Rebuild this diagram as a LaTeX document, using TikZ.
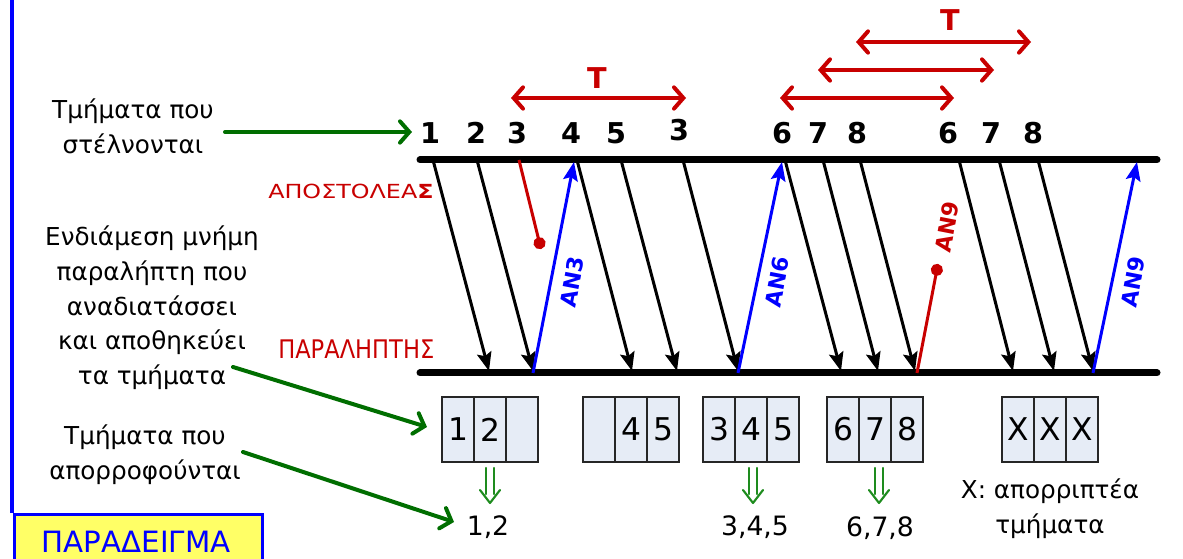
\documentclass[tikz,border=0pt]{standalone}
\usepackage{graphicx}
\usepackage{fontspec}
\setmainfont{DejaVu Sans}
\newfontfamily\numfont{DejaVu Sans}
\usetikzlibrary{arrows.meta}
\definecolor{dgreen}{RGB}{0,110,0}
\definecolor{lgreen}{RGB}{30,140,30}
\definecolor{dred}{RGB}{200,0,0}
\definecolor{cellfill}{RGB}{230,236,246}
\definecolor{yel}{RGB}{255,255,102}
\definecolor{ablue}{RGB}{0,0,255}
\begin{document}
\begin{tikzpicture}[x=0.75pt,y=-0.75pt,
  lbl/.style={font=\fontsize{18.5}{26}\selectfont, align=center, inner sep=0pt},
  num/.style={font=\numfont\bfseries\fontsize{21.5}{21.5}\selectfont, inner sep=0pt},
  seg/.style={line width=2.25pt, -{Stealth[length=14pt,width=11pt,inset=2.5pt]}},
  ack/.style={seg, ablue},
  lost/.style={line width=2.25pt, dred, -{Circle[length=9pt]}},
  lostack/.style={line width=2.25pt, dred, -{Circle[length=9pt]}},
  ackl/.style={font=\numfont\bfseries\fontsize{16.5}{16.5}\selectfont, rotate=79, inner sep=0pt},
  timeline/.style={line width=5.25pt, line cap=round},
  garr/.style={line width=3pt, dgreen, line cap=round, -{Straight Barb[length=7pt,width=16pt,line cap=round]}},
  tarr/.style={line width=3pt, dred, line cap=round, {Straight Barb[length=7pt,width=16pt,line cap=round]}-{Straight Barb[length=7pt,width=16pt,line cap=round]}},
  cell/.style={draw=black!85, line width=0.9pt, fill=cellfill, minimum width=24pt, minimum height=48.75pt, inner sep=0pt, font=\fontsize{23.5}{23.5}\selectfont},
  res/.style={font=\fontsize{20}{20}\selectfont, inner sep=0pt},
  dbl/.style={lgreen, line width=1.6pt, line cap=round, line join=round}
]
\useasboundingbox (0,0) rectangle (1183,559);

% left frame and example box
\coordinate (ftop) at (12,0);
\coordinate (fbot) at (12,513);
\draw[ablue, line width=2.6pt] (ftop) -- (fbot);
\node[draw=ablue, line width=2.6pt, fill=yel, minimum width=186pt, minimum height=45pt, anchor=north west, inner sep=0pt] (ex) at (13,513) {};
\node[font=\fontsize{22}{22}\selectfont, text=ablue, inner sep=0pt] (extxt) at (136,542) {ΠΑΡΑΔΕΙΓΜΑ};

% timelines
\coordinate (tl) at (420,160); \coordinate (tr) at (1157,160);
\coordinate (bl) at (420,373); \coordinate (br) at (1157,373);
\draw[timeline] (tl) -- (tr);
\draw[timeline] (bl) -- (br);

\node[font=\fontsize{15}{15}\selectfont, text=dred, anchor=base west, inner sep=0pt] (snd) at (268,199)
  {\resizebox{124pt}{10.8pt}{ΑΠΟΣΤΟΛΕΑ\textbf{Σ}}};
\node[font=\fontsize{18}{18}\selectfont, text=dred, anchor=base west, inner sep=0pt] (rcv) at (278,359)
  {\resizebox{117pt}{14pt}{ΠΑΡΑΛΗΠΤΗΣ}};

% segment numbers
\foreach \n/\t/\x/\y in {n1/1/430/133, n2/2/476/133, n3/3/517/133, n4/4/571/133, n5/5/616/133, n6/3/679/130,
  n7/6/782/133, n8/7/818/133, n9/8/857/133, n10/6/948/133, n11/7/991/133, n12/8/1033/133}
  \node[num] (\n) at (\x,\y) {\t};

% timer arrows
\coordinate (ta1) at (511,98); \coordinate (tb1) at (686,98);
\coordinate (ta2) at (780,98); \coordinate (tb2) at (954,98);
\coordinate (ta3) at (818,70); \coordinate (tb3) at (994,70);
\coordinate (ta4) at (856,42); \coordinate (tb4) at (1031,42);
\draw[tarr] (ta1) -- (tb1);
\draw[tarr] (ta2) -- (tb2);
\draw[tarr] (ta3) -- (tb3);
\draw[tarr] (ta4) -- (tb4);
\node[num, text=dred] (T1) at (597,78) {T};
\node[num, text=dred] (T2) at (950,20) {T};

% data segments
\foreach \i/\a/\b in {1/433/489, 2/477/533, 3/577/632, 4/621/677, 5/683/738, 6/785/841,
  7/823/878, 8/860/915, 9/959/1013, 10/999/1054, 11/1038/1093}{
  \coordinate (s\i) at (\a,160);
  \coordinate (r\i) at (\b,371);
  \draw[seg] (s\i) -- (r\i);
}
% lost segment 3
\coordinate (ls) at (519,160); \coordinate (le) at (541,249);
\draw[lost] (ls) -- (le);

% acks
\coordinate (a3s) at (533,373); \coordinate (a3e) at (574,162);
\coordinate (a6s) at (738,373); \coordinate (a6e) at (782,162);
\coordinate (a9s) at (1093,373); \coordinate (a9e) at (1137,162);
\coordinate (l9s) at (917,373); \coordinate (l9e) at (938,264);
\draw[ack] (a3s) -- (a3e);
\draw[ack] (a6s) -- (a6e);
\draw[ack] (a9s) -- (a9e);
\draw[lostack] (l9s) -- (l9e);
\node[ackl, text=ablue] (an3) at (572,282) {AN3};
\node[ackl, text=ablue] (an6) at (777,282) {AN6};
\node[ackl, text=ablue] (an9) at (1133,282) {AN9};
\node[ackl, text=dred] (an9r) at (947,227) {AN9};

% left labels
\node[lbl] (sent) at (133,126) {Τμήματα που\\στέλνονται};
\node[lbl] (buf) at (152,308) {Ενδιάμεση μνήμη\\παραλήπτη που\\αναδιατάσσει\\και αποθηκεύει\\τα τμήματα};
\node[lbl] (abs) at (145,455) {Τμήματα που\\απορροφούνται};

% buffers
\foreach \nm/\x/\a/\b/\c in {bA/458/1/2/, bB/599//4/5, bC/719/3/4/5, bD/843/6/7/8, bE/1018/X/X/X}{
  \node[cell] (\nm1) at (\x,429.5) {\a};
  \node[cell] (\nm2) at (\x+32,429.5) {\b};
  \node[cell] (\nm3) at (\x+64,429.5) {\c};
}

% green pointers
\coordinate (g1s) at (225,132); \coordinate (g1e) at (412,132);
\coordinate (g2s) at (233,367); \coordinate (g2e) at (427,427);
\coordinate (g3s) at (243,452); \coordinate (g3e) at (454,522);
\draw[garr] (g1s) -- (g1e);
\draw[garr] (g2s) -- (g2e);
\draw[garr] (g3s) -- (g3e);

% double arrows
\foreach \nm/\x in {d1/490, d2/753, d3/879}{
  \coordinate (\nm) at (\x,503);
  \draw[dbl] (\x-4.3,468) -- (\x-4.3,494);
  \draw[dbl] (\x+4.3,468) -- (\x+4.3,494);
  \draw[dbl] (\x-10,490) -- (\nm) -- (\x+10,490);
}

% results
\node[res] (r12) at (488,527) {1,2};
\node[res] (r345) at (755,527) {3,4,5};
\node[res] (r678) at (880,528) {6,7,8};
\node[lbl] (xnote) at (1050,509) {X: απορριπτέα\\τμήματα};
\end{tikzpicture}
\end{document}
